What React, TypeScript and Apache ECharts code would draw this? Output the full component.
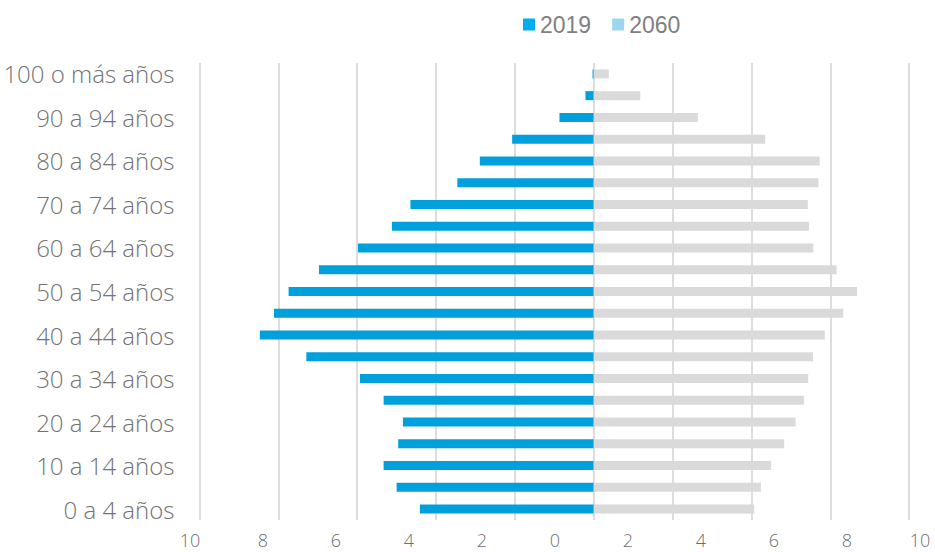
import React, { useEffect, useRef } from "react";
import * as echarts from "echarts";

const categories = [
  "0 a 4 años", "5 a 9 años", "10 a 14 años", "15 a 19 años", "20 a 24 años",
  "25 a 29 años", "30 a 34 años", "35 a 39 años", "40 a 44 años", "45 a 49 años",
  "50 a 54 años", "55 a 59 años", "60 a 64 años", "65 a 69 años", "70 a 74 años",
  "75 a 79 años", "80 a 84 años", "85 a 89 años", "90 a 94 años", "95 a 99 años",
  "100 o más años",
];

const values2019 = [4.41, 5.0, 5.33, 4.96, 4.84, 5.33, 5.93, 7.29, 8.47, 8.11, 7.74, 6.97, 5.98, 5.12, 4.65, 3.46, 2.89, 2.07, 0.87, 0.21, 0.03];
const values2060 = [4.07, 4.24, 4.5, 4.83, 5.12, 5.33, 5.44, 5.56, 5.86, 6.33, 6.68, 6.16, 5.57, 5.46, 5.43, 5.7, 5.73, 4.35, 2.64, 1.18, 0.38];

const seriesNames = ["2019", "2060"];
const xTickMin = -10;
const xTickMax = 10;
const xTickStep = 2;

export default function App() {
  const ref = useRef<HTMLDivElement>(null);

  useEffect(() => {
    if (!ref.current) return;
    const chart = echarts.init(ref.current, null, { renderer: "svg" });
    const labelFont = { fontFamily: "Open Sans", fontWeight: 300 as any, color: "#737373" };
    chart.setOption({
      animation: false,
      backgroundColor: "#ffffff",
      legend: {
        top: 8,
        left: 518,
        itemWidth: 12,
        itemHeight: 12,
        itemGap: 21,
        icon: "rect",
        textStyle: { fontFamily: "Liberation Sans", fontSize: 23, color: "#7f7f7f", padding: [0, 0, 0, 0] },
        data: [
          { name: seriesNames[0], itemStyle: { color: "#00AEEF" } },
          { name: seriesNames[1], itemStyle: { color: "#9DD6F0" } },
        ],
      },
      grid: [
        { left: 199.5, width: 788.5, top: 63, height: 457, containLabel: false, outerBoundsMode: "none" },
        { left: 190, right: 15, top: 63, bottom: 27, containLabel: false, outerBoundsMode: "none" },
      ],
      xAxis: [
        {
          type: "value",
          gridIndex: 0,
          min: xTickMin,
          max: xTickMax,
          interval: xTickStep,
          axisLabel: { show: false },
          axisLine: { show: false },
          axisTick: { show: false },
          splitLine: { show: true, lineStyle: { color: "#dddddd", width: 2 } },
        },
        {
          type: "value",
          gridIndex: 1,
          min: xTickMin,
          max: xTickMax,
          interval: xTickStep,
          axisLabel: {
            show: true,
            margin: 6,
            fontSize: 18,
            lineHeight: 18,
            ...labelFont,
            color: "#6e6e6e",
            formatter: (v: number) => String(Math.abs(v)),
          },
          axisLine: { show: false },
          axisTick: { show: false },
          splitLine: { show: false },
        },
      ],
      yAxis: [
        {
          type: "category",
          gridIndex: 0,
          data: categories,
          axisLine: { show: false },
          axisTick: { show: false },
          axisLabel: { interval: 1, fontSize: 24, margin: 25, ...labelFont },
        },
        {
          type: "value",
          gridIndex: 1,
          show: false,
          min: 0,
          max: 1,
        },
      ],
      series: [
        {
          name: seriesNames[0],
          type: "bar",
          xAxisIndex: 0,
          yAxisIndex: 0,
          barWidth: 9,
          barGap: "-100%",
          itemStyle: { color: "#00A0DC" },
          data: values2019.map((v) => -v),
        },
        {
          name: seriesNames[1],
          type: "bar",
          xAxisIndex: 0,
          yAxisIndex: 0,
          barWidth: 9,
          barGap: "-100%",
          itemStyle: { color: "#D9DAD9" },
          data: values2060,
        },
      ],
    });
    return () => chart.dispose();
  }, []);

  return (
    <div
      ref={ref}
      style={{ position: "fixed", left: 0, top: 0, width: 935, height: 552, background: "#fff" }}
    />
  );
}
